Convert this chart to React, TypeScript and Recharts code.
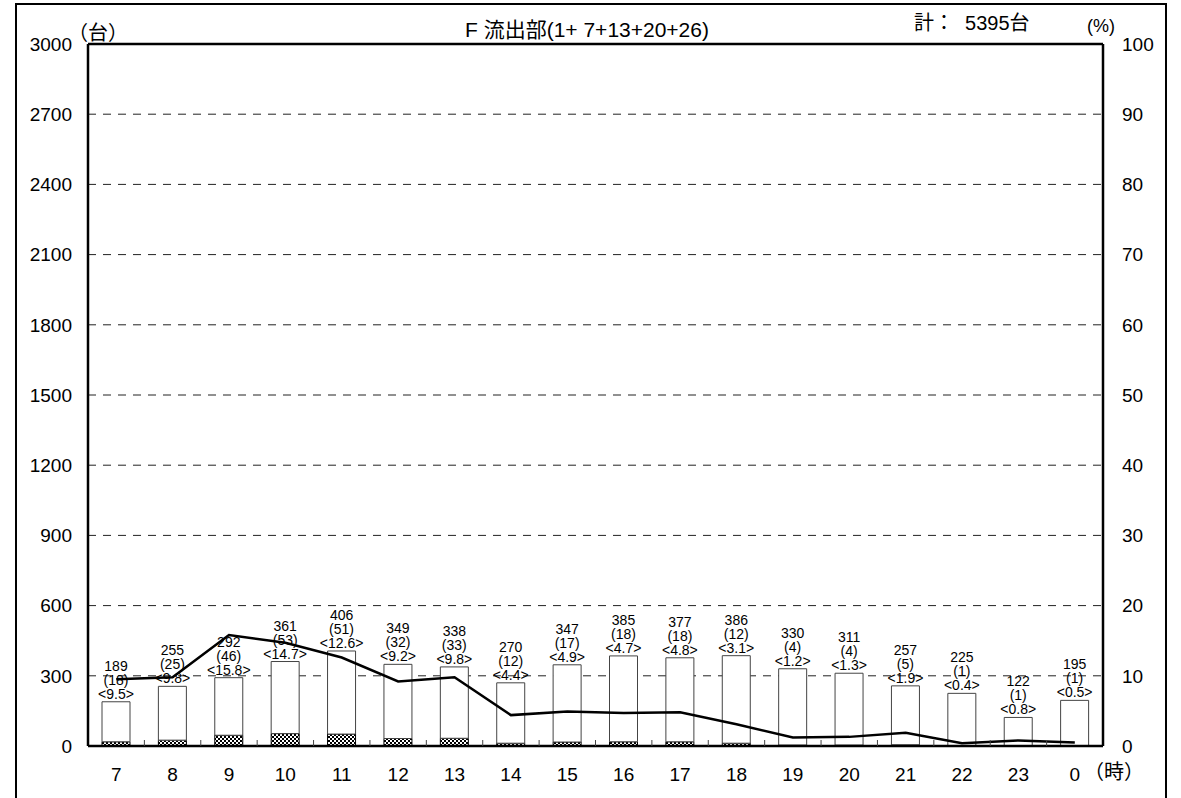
import React from 'react';
import {
  ComposedChart,
  Bar,
  Line,
  XAxis,
  YAxis,
  CartesianGrid,
  ReferenceLine,
  LabelList,
} from 'recharts';

const hours = ['7', '8', '9', '10', '11', '12', '13', '14', '15', '16', '17', '18', '19', '20', '21', '22', '23', '0'];
const totals = [189, 255, 292, 361, 406, 349, 338, 270, 347, 385, 377, 386, 330, 311, 257, 225, 122, 195];
const heavy = [18, 25, 46, 53, 51, 32, 33, 12, 17, 18, 18, 12, 4, 4, 5, 1, 1, 1];
const heavyPct = [9.5, 9.8, 15.8, 14.7, 12.6, 9.2, 9.8, 4.4, 4.9, 4.7, 4.8, 3.1, 1.2, 1.3, 1.9, 0.4, 0.8, 0.5];

const leftTicks = [0, 300, 600, 900, 1200, 1500, 1800, 2100, 2400, 2700, 3000];
const rightTicks = [0, 10, 20, 30, 40, 50, 60, 70, 80, 90, 100];

const data = hours.map((h, i) => ({
  hour: h,
  total: totals[i],
  heavy: heavy[i],
  light: totals[i] - heavy[i],
  pct: heavyPct[i],
}));

const FONT = '"Liberation Sans", Arial, "Noto Sans CJK JP", sans-serif';
const W = 1181;
const H = 798;
const PLOT_W = 1103 - 88;
const BAND = PLOT_W / hours.length;

const BarLabel = (props: any) => {
  const { x, y, width, index } = props;
  const d = data[index];
  const cx = x + width / 2;
  return (
    <text x={cx} y={y - 31} textAnchor="middle" fontSize={14} fontFamily={FONT} fill="#000">
      <tspan x={cx} dy={0}>{d.total}</tspan>
      <tspan x={cx} dy={14}>({d.heavy})</tspan>
      <tspan x={cx} dy={14}>&lt;{d.pct}&gt;</tspan>
    </text>
  );
};

const HourTick = (props: any) => {
  const { x, y, payload, index } = props;
  const axisY = y - 10;
  return (
    <g>
      {index < hours.length - 1 && (
        <line x1={x + BAND / 2} x2={x + BAND / 2} y1={axisY - 6} y2={axisY} stroke="#444" strokeWidth={1} />
      )}
      <text x={x} y={y + 25} textAnchor="middle" fontSize={19} fontFamily={FONT} fill="#000">
        {payload.value}
      </text>
    </g>
  );
};

const txt: React.CSSProperties = {
  position: 'absolute',
  fontFamily: FONT,
  color: '#000',
  whiteSpace: 'nowrap',
  lineHeight: 1,
};

export default function App() {
  return (
    <div style={{ position: 'absolute', left: 0, top: 0, width: W, height: H, background: '#fff', overflow: 'hidden' }}>
      <svg width={0} height={0} style={{ position: 'absolute' }}>
        <defs>
          <pattern id="checker" width={4} height={4} patternUnits="userSpaceOnUse">
            <rect width={4} height={4} fill="#fff" />
            <rect width={2} height={2} fill="#000" />
            <rect x={2} y={2} width={2} height={2} fill="#000" />
          </pattern>
        </defs>
      </svg>
      <div
        style={{
          position: 'absolute',
          left: 15,
          top: 3,
          width: 1148,
          height: 820,
          border: '2px solid #000',
        }}
      />
      <ComposedChart
        width={W}
        height={H}
        data={data}
        margin={{ top: 44, right: 28, bottom: 22, left: 28 }}
        style={{ position: 'absolute', left: 0, top: 0 }}
      >
        <CartesianGrid
          yAxisId="left"
          vertical={false}
          stroke="#222"
          strokeDasharray="8 7"
        />
        <XAxis
          dataKey="hour"
          height={30}
          axisLine={{ stroke: '#000', strokeWidth: 2.5 }}
          tickLine={false}
          tickSize={0}
          tickMargin={10}
          interval={0}
          tick={<HourTick />}
        />
        <YAxis
          yAxisId="left"
          width={60}
          domain={[0, 3000]}
          ticks={leftTicks}
          interval={0}
          axisLine={{ stroke: '#000', strokeWidth: 2.5 }}
          tickLine={false}
          tickSize={0}
          tickMargin={16}
          tick={{ fontSize: 19, fontFamily: FONT, fill: '#000' }}
        />
        <YAxis
          yAxisId="right"
          orientation="right"
          width={50}
          domain={[0, 100]}
          ticks={rightTicks}
          interval={0}
          axisLine={{ stroke: '#000', strokeWidth: 2.5 }}
          tickLine={false}
          tickSize={0}
          tickMargin={19}
          tick={{ fontSize: 19, fontFamily: FONT, fill: '#000' }}
        />
        <ReferenceLine yAxisId="left" y={3000} stroke="#000" strokeWidth={2.5} />
        <Bar
          yAxisId="left"
          dataKey="heavy"
          stackId="a"
          barSize={28}
          fill="url(#checker)"
          stroke="#000"
          strokeWidth={1}
          isAnimationActive={false}
        />
        <Bar
          yAxisId="left"
          dataKey="light"
          stackId="a"
          barSize={28}
          fill="#fff"
          stroke="#444"
          strokeWidth={1}
          isAnimationActive={false}
        >
          <LabelList dataKey="total" content={<BarLabel />} />
        </Bar>
        <Line
          yAxisId="right"
          dataKey="pct"
          type="linear"
          stroke="#000"
          strokeWidth={2.5}
          dot={false}
          activeDot={false}
          isAnimationActive={false}
        />
      </ComposedChart>
      <span style={{ ...txt, left: 68, top: 23, fontSize: 20 }}>（台）</span>
      <span style={{ ...txt, left: 465, top: 19, fontSize: 21 }}>F 流出部(1+ 7+13+20+26)</span>
      <span style={{ ...txt, left: 914, top: 13, fontSize: 20 }}>計：&nbsp;&nbsp;5395台</span>
      <span style={{ ...txt, left: 1087, top: 17, fontSize: 18 }}>(%)</span>
      <span style={{ ...txt, left: 1084, top: 762, fontSize: 20 }}>（時）</span>
    </div>
  );
}
